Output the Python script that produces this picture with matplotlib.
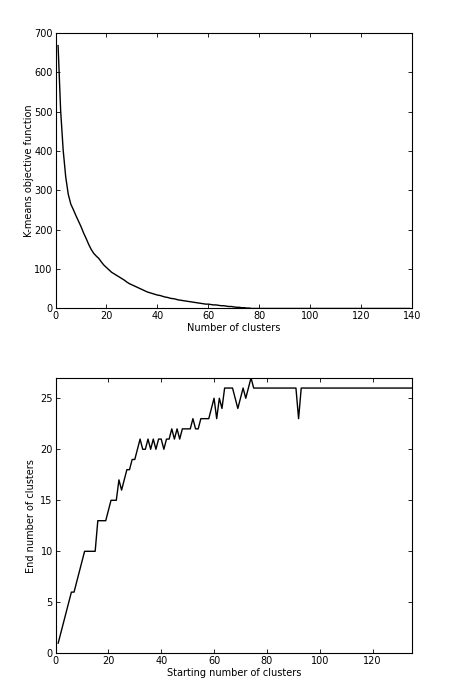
import numpy as np
import matplotlib
matplotlib.use('Agg')
from matplotlib import pyplot as plt

# K-means objective vs number of clusters
k_obj = list(range(1, 140))
obj_head = [668, 503, 402, 334, 290, 265, 251, 236, 222, 208,
            192, 178, 163, 150, 140, 133, 127, 118, 110, 104,
            98, 92, 88, 84, 80, 76, 72, 67, 63, 60,
            57, 54, 51, 48, 45, 42, 40, 38, 36, 34,
            33, 31, 29, 28, 26, 25, 24, 22, 21, 20,
            19, 18, 17, 16, 15, 14, 13, 12, 11, 11,
            10, 9, 9, 8, 7, 7, 6, 5, 5, 4,
            3, 3, 2, 2, 1, 1]
obj = obj_head + [0] * (len(k_obj) - len(obj_head))

# end number of clusters vs starting number of clusters
k_start = list(range(1, 136))
end_head = [1, 2, 3, 4, 5, 6, 6, 7, 8, 9,
            10, 10, 10, 10, 10, 13, 13, 13, 13, 14,
            15, 15, 15, 17, 16, 17, 18, 18, 19, 19,
            20, 21, 20, 20, 21, 20, 21, 20, 21, 21,
            20, 21, 21, 22, 21, 22, 21, 22, 22, 22,
            22, 23, 22, 22, 23, 23, 23, 23, 24, 25,
            23, 25, 24, 26, 26, 26, 26, 25, 24, 25,
            26, 25, 26, 27, 26]
end_k = end_head + [26] * (91 - len(end_head)) + [23] + [26] * (135 - 92)

fs = 7
fig = plt.figure(figsize=(4.59, 6.87), dpi=100)
fig.patch.set_facecolor('white')

ax1 = fig.add_axes([0.121, 0.551, 0.777, 0.401])
ax1.plot(k_obj, obj, color='k', lw=1)
ax1.set_xlim(0, 140)
ax1.set_ylim(0, 700)
ax1.set_xlabel('Number of clusters', fontsize=fs, labelpad=1)
ax1.set_ylabel('K-means objective function', fontsize=fs, labelpad=0)

ax2 = fig.add_axes([0.121, 0.049, 0.777, 0.401])
ax2.plot(k_start, end_k, color='k', lw=1)
ax2.set_xlim(0, 135)
ax2.set_ylim(0, 27)
ax2.set_xticks([0, 20, 40, 60, 80, 100, 120])
ax2.set_yticks([0, 5, 10, 15, 20, 25])
ax2.set_xlabel('Starting number of clusters', fontsize=fs, labelpad=1)
ax2.set_ylabel('End number of clusters', fontsize=fs, labelpad=3)

for ax in (ax1, ax2):
    ax.tick_params(direction='in', top=True, right=True, labelsize=fs,
                   length=3, width=0.6, pad=2)
    for s in ax.spines.values():
        s.set_linewidth(0.8)

fig.savefig('out.png', dpi=100, facecolor='white')
